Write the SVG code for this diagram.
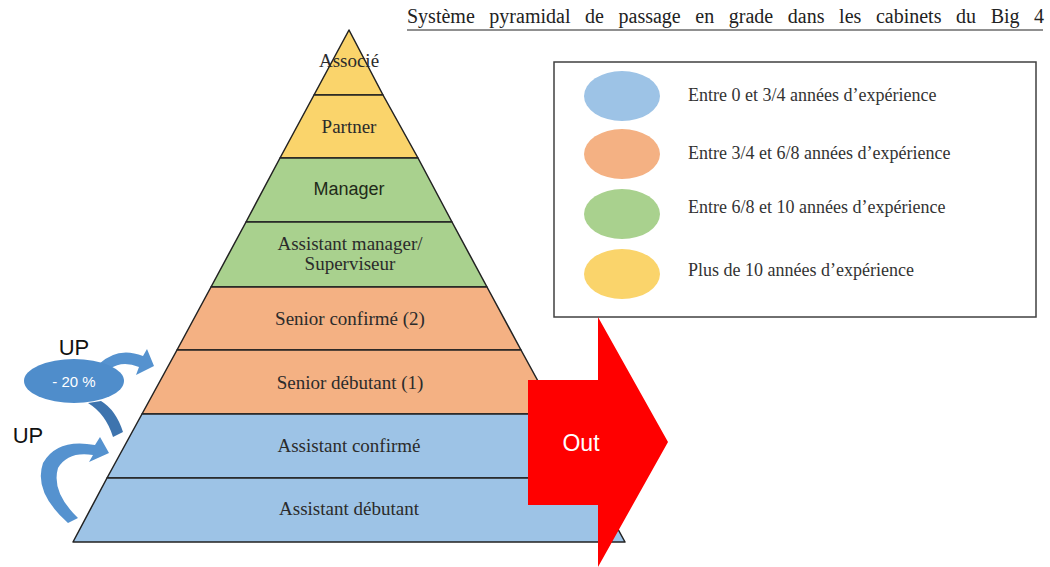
<svg xmlns="http://www.w3.org/2000/svg" width="1050" height="567" viewBox="0 0 1050 567">
<style>
.lay{stroke:#222;stroke-width:1.5;stroke-linejoin:round}
.y{fill:#FAD46B}.g{fill:#A9D18E}.o{fill:#F4B183}.b{fill:#9DC3E6}
.t{font-family:"Liberation Serif",serif;font-size:19px;fill:#2b2b2b;text-anchor:middle}
.s{font-family:"Liberation Sans",sans-serif;text-anchor:middle}
.lg{font-family:"Liberation Serif",serif;font-size:18px;fill:#333}
</style>
<rect width="1050" height="567" fill="#fff"/>
<g id="title">
<text x="407" y="23" font-family="Liberation Serif, serif" font-size="20" fill="#222" word-spacing="9.6">Système pyramidal de passage en grade dans les cabinets du Big 4</text>
<line x1="407" y1="30" x2="1043" y2="30" stroke="#222" stroke-width="1.2"/>
</g>
<g id="legend">
<rect x="554" y="62" width="482" height="255" fill="#fff" stroke="#404040" stroke-width="1.5"/>
<ellipse cx="622" cy="96" rx="38" ry="25" class="b"/>
<ellipse cx="622" cy="154" rx="38" ry="25" class="o"/>
<ellipse cx="622" cy="214" rx="38" ry="25" class="g"/>
<ellipse cx="622" cy="274" rx="38" ry="25" class="y"/>
<text x="688" y="101" class="lg">Entre 0 et 3/4 années d’expérience</text>
<text x="688" y="159" class="lg">Entre 3/4 et 6/8 années d’expérience</text>
<text x="688" y="213" class="lg">Entre 6/8 et 10 années d’expérience</text>
<text x="688" y="276" class="lg">Plus de 10 années d’expérience</text>
</g>
<g id="pyramid">
<g id="associe"><polygon class="lay y" points="349,30 383,95 314,95"/><text x="349" y="67" class="t">Associé</text></g>
<g id="partner"><polygon class="lay y" points="314,95 383,95 418,158 280,158"/><text x="349" y="133" class="t">Partner</text></g>
<g id="manager"><polygon class="lay g" points="280,158 418,158 452,222 246,222"/><text x="349" y="195" class="s" font-size="18" fill="#1f2a18">Manager</text></g>
<g id="assistant-manager"><polygon class="lay g" points="246,222 452,222 487,287 211,287"/><text x="350" y="250" class="t">Assistant manager/</text><text x="350" y="270" class="t">Superviseur</text></g>
<g id="senior-confirme"><polygon class="lay o" points="211,287 487,287 521,350 177,350"/><text x="350" y="325" class="t">Senior confirmé (2)</text></g>
<g id="senior-debutant"><polygon class="lay o" points="177,350 521,350 556,414 142,414"/><text x="350" y="389" class="t">Senior débutant (1)</text></g>
<g id="assistant-confirme"><polygon class="lay b" points="142,414 556,414 590,478 107,478"/><text x="349" y="452" class="t">Assistant confirmé</text></g>
<g id="assistant-debutant"><polygon class="lay b" points="107,478 590,478 625,542 73,542"/><text x="349" y="515" class="t">Assistant débutant</text></g>
</g>
<g id="out">
<polygon points="528,380 598,380 598,317 668,442 598,567 598,505 528,505" fill="#FF0000"/>
<text x="581" y="451" class="s" font-size="23" fill="#fff">Out</text>
</g>
<g id="connectors">
<path d="M88 403 Q106 414 113 437 L123 432 Q116 410 101 401 Z" fill="#3E74AE"/>
<path d="M99 364 Q118 346 143 356 L147 349 L154 366 L136 375 L139 367 Q122 360 110 369 Z" fill="#5592CF"/>
<path d="M68 523 Q33 492 43 463 Q57 438 95 445 L100 437 L109 453 L89 462 L93 455 Q68 451 58 468 Q51 492 78 518 Z" fill="#5592CF"/>
</g>
<g id="reduction">
<ellipse cx="74" cy="381" rx="50" ry="22" fill="#4F8DCB"/>
<text x="74" y="387" class="s" font-size="15" fill="#fff">- 20 %</text>
</g>
<text x="74" y="355" class="s" font-size="22" fill="#111">UP</text>
<text x="28" y="443" class="s" font-size="22" fill="#111">UP</text>
</svg>
